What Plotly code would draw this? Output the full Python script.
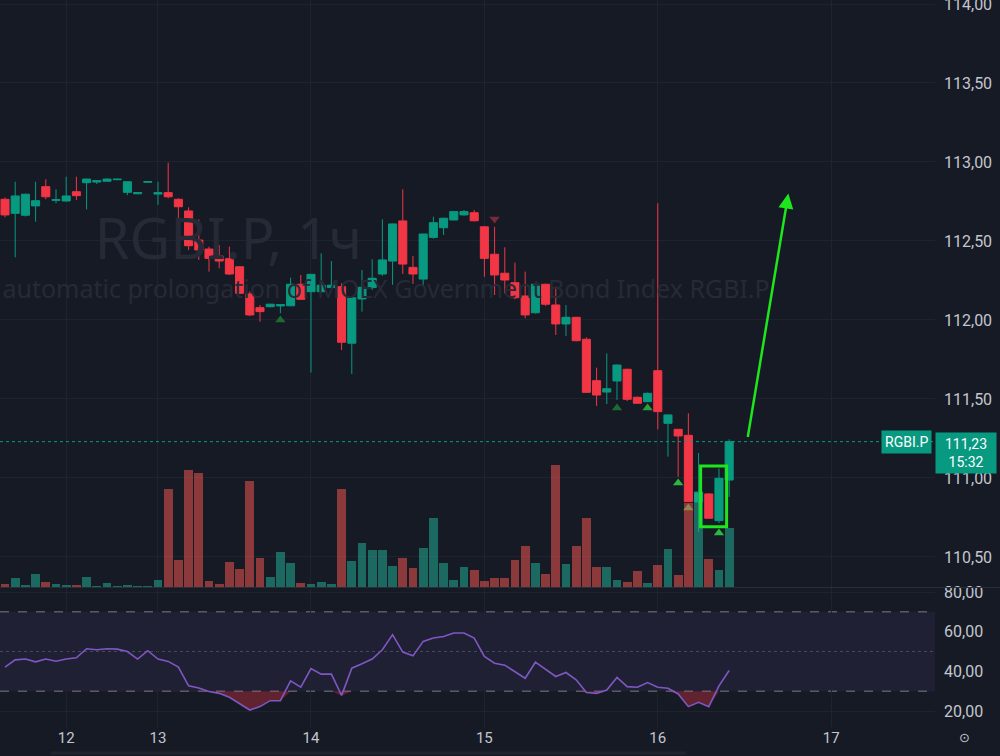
import plotly.graph_objects as go

# ---------------- data ----------------
symbol = "RGBI.P"
interval_label = "RGBI.P, 1ч"
subtitle = "automatic prolongation of MOEX Government Bond Index RGBI.P"
last_price = 111.23
last_time = "15:32"

day_tick_idx = [6, 15, 30, 47, 64, 81]
day_labels = ["12", "13", "14", "15", "16", "17"]

price_ticks = [110.5, 111.0, 111.5, 112.0, 112.5, 113.0, 113.5, 114.0]
rsi_ticks = [20, 40, 60, 80]

opens = [112.764, 112.675, 112.663, 112.722, 112.844, 112.757, 112.753, 112.812, 112.869, 112.873,
         112.878, 112.888, 112.808, 112.799, 112.872, 112.797, 112.806, 112.764, 112.690, 112.506,
         112.449, 112.405, 112.388, 112.337, 112.165, 112.078, 112.084, 112.089, 112.090, 112.226,
         112.179, 112.179, 112.205, 112.211, 111.853, 112.133, 112.205, 112.291, 112.373, 112.627,
         112.333, 112.259, 112.523, 112.584, 112.633, 112.665, 112.679, 112.590, 112.416, 112.296,
         112.236, 112.152, 112.046, 112.226, 112.095, 111.975, 112.017, 111.878, 111.616, 111.544,
         111.614, 111.688, 111.511, 111.483, 111.679, 111.346, 111.308, 111.270, 110.848, 110.899,
         110.730, 110.987]
highs = [112.775, 112.875, 112.800, 112.875, 112.890, 112.827, 112.907, 112.907, 112.895, 112.886,
         112.895, 112.895, 112.876, 112.808, 112.877, 112.875, 112.996, 112.770, 112.713, 112.637,
         112.464, 112.475, 112.464, 112.340, 112.180, 112.095, 112.102, 112.099, 112.268, 112.285,
         112.289, 112.422, 112.373, 112.232, 112.145, 112.316, 112.384, 112.637, 112.610, 112.827,
         112.405, 112.546, 112.654, 112.648, 112.690, 112.696, 112.696, 112.592, 112.590, 112.460,
         112.363, 112.306, 112.230, 112.230, 112.211, 112.095, 112.020, 111.890, 111.698, 111.789,
         111.718, 111.692, 111.515, 111.540, 112.739, 111.402, 111.310, 111.410, 111.158, 110.905,
         111.060, 111.245]
lows = [112.650, 112.397, 112.655, 112.622, 112.764, 112.739, 112.749, 112.759, 112.700, 112.860,
        112.876, 112.885, 112.790, 112.797, 112.870, 112.728, 112.770, 112.608, 112.443, 112.380,
        112.306, 112.327, 112.285, 112.165, 112.025, 111.989, 112.080, 112.043, 112.088, 112.127,
        111.667, 112.175, 112.200, 111.810, 111.658, 112.053, 112.190, 112.280, 112.222, 112.291,
        112.228, 112.222, 112.515, 112.538, 112.630, 112.660, 112.625, 112.274, 112.158, 112.169,
        112.131, 112.011, 112.040, 112.090, 111.905, 111.899, 111.865, 111.538, 111.456, 111.468,
        111.494, 111.487, 111.470, 111.480, 111.308, 111.135, 111.008, 110.850, 110.658, 110.745,
        110.715, 110.880]
closes = [112.665, 112.785, 112.796, 112.755, 112.780, 112.762, 112.785, 112.787, 112.892, 112.882,
          112.892, 112.891, 112.875, 112.806, 112.876, 112.806, 112.780, 112.717, 112.470, 112.443,
          112.390, 112.373, 112.291, 112.169, 112.032, 112.053, 112.100, 112.097, 112.226, 112.131,
          112.289, 112.220, 112.220, 111.859, 112.141, 112.207, 112.264, 112.380, 112.608, 112.354,
          112.291, 112.544, 112.616, 112.644, 112.686, 112.686, 112.628, 112.390, 112.285, 112.253,
          112.141, 112.032, 112.226, 112.100, 111.975, 112.017, 111.869, 111.542, 111.525, 111.565,
          111.715, 111.498, 111.473, 111.536, 111.420, 111.399, 111.266, 110.850, 110.911, 110.745,
          110.998, 111.230]
volumes = [33, 93, 20, 127, 50, 27, 17, 17, 97, 10,
           37, 10, 17, 7, 7, 70, 977, 273, 1167, 1140,
           60, 33, 250, 183, 1060, 293, 100, 347, 237, 40,
           27, 50, 27, 983, 260, 443, 367, 367, 207, 287,
           193, 387, 693, 240, 70, 203, 173, 60, 93, 87,
           267, 413, 240, 133, 1220, 227, 413, 690, 200, 200,
           70, 53, 160, 40, 217, 377, 117, 843, 943, 277,
           167, 587]
rsi = [42.1, 45.8, 46.2, 44.8, 46.2, 45.1, 46.2, 46.8, 51.4, 50.9,
       51.4, 51.2, 50.0, 46.2, 50.4, 46.2, 45.0, 42.1, 32.7, 31.6,
       29.8, 28.9, 26.9, 23.5, 20.5, 22.2, 25.2, 25.2, 35.2, 32.0,
       41.4, 38.6, 38.6, 27.8, 41.6, 43.8, 46.2, 50.9, 58.5, 49.7,
       47.8, 55.1, 56.8, 57.6, 59.3, 59.3, 56.8, 47.5, 44.1, 43.1,
       39.9, 36.5, 44.6, 41.1, 37.4, 39.4, 35.7, 29.3, 28.9, 30.6,
       36.9, 32.3, 32.0, 34.3, 32.0, 31.5, 28.6, 22.2, 24.4, 22.2,
       32.7, 40.4]
rsi_upper, rsi_mid, rsi_lower = 70, 50, 30

signal_up_idx = [27, 60, 63, 66, 67, 70]
signal_up_price = [112.000, 111.443, 111.443, 110.968, 110.810, 110.652]
signal_up_color = ["#1c6b33", "#1c6b33", "#25a23c", "#2bb842", "#2bb842", "#2bb842"]
signal_dn_idx = [48]
signal_dn_price = [112.639]

# user drawings (data coordinates)
box_x = [68.2, 70.75]
box_y = [110.692, 111.076]
arrow_from = [72.8, 111.25]
arrow_to = [76.8, 112.80]

# ---------------- styling ----------------
BG = "#161a25"
GRID = "#1f2330"
TXT = "#c3c6ce"
UP = "#089981"
DN = "#f23645"
FONT = "Roboto"

idx = list(range(len(opens)))
vol_colors = ["rgba(34,171,148,0.55)" if c >= o else "rgba(239,83,80,0.55)"
              for o, c in zip(opens, closes)]

fig = go.Figure()

# watermark (drawn first, behind candles)
fig.add_trace(go.Scatter(x=[8.8], y=[112.475], mode="text", text=[interval_label],
                         textposition="middle right",
                         textfont=dict(family="Noto Sans", size=56, color="#262a36"),
                         hoverinfo="skip", showlegend=False, xaxis="x", yaxis="y"))
fig.add_trace(go.Scatter(x=[-0.25], y=[112.180], mode="text", text=[subtitle],
                         textposition="middle right",
                         textfont=dict(family="Noto Sans", size=25, color="#262a36"),
                         hoverinfo="skip", showlegend=False, xaxis="x", yaxis="y"))

fig.add_trace(go.Candlestick(x=idx, open=opens, high=highs, low=lows, close=closes,
                             increasing=dict(line=dict(color=UP, width=1), fillcolor=UP),
                             decreasing=dict(line=dict(color=DN, width=1), fillcolor=DN),
                             whiskerwidth=0, showlegend=False, hoverinfo="skip",
                             xaxis="x", yaxis="y"))

fig.add_trace(go.Scatter(x=signal_up_idx, y=signal_up_price, mode="markers",
                         marker=dict(symbol="triangle-up", size=9, color=signal_up_color),
                         hoverinfo="skip", showlegend=False, xaxis="x", yaxis="y"))
fig.add_trace(go.Scatter(x=signal_dn_idx, y=signal_dn_price, mode="markers",
                         marker=dict(symbol="triangle-down", size=9, color="#7a2a35"),
                         hoverinfo="skip", showlegend=False, xaxis="x", yaxis="y"))

# volume overlay
fig.add_trace(go.Bar(x=idx, y=volumes, marker=dict(color=vol_colors, line=dict(width=0)),
                     width=0.86, hoverinfo="skip", showlegend=False, xaxis="x", yaxis="y3"))

# RSI pane
rsi_clip = [min(v, rsi_lower) for v in rsi]
fig.add_trace(go.Scatter(x=idx, y=[rsi_lower] * len(idx), mode="lines", line=dict(width=0),
                         hoverinfo="skip", showlegend=False, xaxis="x2", yaxis="y2"))
fig.add_trace(go.Scatter(x=idx, y=rsi_clip, mode="lines", line=dict(width=0),
                         fill="tonexty", fillcolor="rgba(242,54,69,0.35)",
                         hoverinfo="skip", showlegend=False, xaxis="x2", yaxis="y2"))
fig.add_trace(go.Scatter(x=idx, y=rsi, mode="lines", line=dict(color="#7e57c2", width=1.6),
                         hoverinfo="skip", showlegend=False, xaxis="x2", yaxis="y2"))

# ---------------- layout ----------------
H, W = 756, 1000
mb, mr = 29, 65
ph = H - mb
price_dom = [1 - 587 / ph, 1]
rsi_dom = [0, 1 - 588 / ph]
xr = [-0.49, 91.18]

fig.update_layout(
    width=W, height=H,
    margin=dict(l=0, r=mr, t=0, b=mb, autoexpand=False),
    paper_bgcolor=BG, plot_bgcolor=BG,
    separators=", ",
    font=dict(family=FONT, color=TXT, size=16),
    bargap=0,
    boxgap=0.1, boxgroupgap=0.12,
    hovermode=False,
    xaxis=dict(domain=[0, 1], range=xr, anchor="y", showticklabels=False,
               tickvals=day_tick_idx, showgrid=True, gridcolor=GRID, zeroline=False,
               rangeslider=dict(visible=False), fixedrange=True),
    xaxis2=dict(domain=[0, 1], range=xr, anchor="y2", matches="x",
                tickvals=day_tick_idx, ticktext=day_labels, ticks="", ticklabelstandoff=0,
                ticklabeloverflow="allow",
                tickfont=dict(size=15, color=TXT, family=FONT),
                showgrid=True, gridcolor=GRID, zeroline=False, showline=False),
    yaxis=dict(domain=price_dom, range=[110.310, 114.0253], side="right",
               tickvals=price_ticks, tickformat=".2f", ticks="", ticklabelstandoff=8,
               ticklabeloverflow="allow",
               tickfont=dict(size=16, color=TXT, family=FONT),
               showgrid=True, gridcolor=GRID, zeroline=False, anchor="x"),
    yaxis3=dict(overlaying="y", range=[0, max(volumes) * 587 / 122], visible=False,
                showgrid=False),
    yaxis2=dict(domain=rsi_dom, range=[11.93, 82.02], side="right", anchor="x2",
                tickvals=rsi_ticks, tickformat=".2f", ticks="", ticklabelstandoff=8,
                ticklabeloverflow="allow",
                tickfont=dict(size=16, color=TXT, family=FONT),
                showgrid=True, gridcolor=GRID, zeroline=False),
)

shapes = []
# RSI band and levels
shapes.append(dict(type="rect", xref="x2 domain", yref="y2", x0=0, x1=1, y0=rsi_lower, y1=rsi_upper,
                   fillcolor="rgba(126,87,194,0.10)", line=dict(width=0), layer="below"))
for lv, dash, col in [(rsi_upper, "dash", "#787b86"), (rsi_lower, "dash", "#787b86"),
                      (rsi_mid, "dot", "rgba(120,123,134,0.45)")]:
    shapes.append(dict(type="line", xref="x2 domain", yref="y2", x0=0, x1=1, y0=lv, y1=lv,
                       line=dict(color=col, width=1, dash=dash), layer="below"))
# current price dotted line
shapes.append(dict(type="line", xref="x domain", yref="y", x0=0, x1=1, y0=last_price, y1=last_price,
                   line=dict(color=UP, width=1, dash="dot"), layer="above"))
# pane separator
shapes.append(dict(type="line", xref="paper", yref="paper", x0=0, x1=W / (W - mr), y0=1 - 587.5 / ph,
                   y1=1 - 587.5 / ph, line=dict(color="#2a2e39", width=1)))
# bottom scrollbar hint
shapes.append(dict(type="line", xref="paper", yref="paper", x0=51 / (W - mr), x1=686 / (W - mr),
                   y0=-(753 - ph) / ph, y1=-(753 - ph) / ph, line=dict(color="#20242f", width=3)))
# user-drawn highlight box
shapes.append(dict(type="rect", xref="x", yref="y", x0=box_x[0], x1=box_x[1], y0=box_y[0], y1=box_y[1],
                   line=dict(color="#1de61d", width=3), fillcolor="rgba(0,0,0,0)", layer="above"))
fig.update_layout(shapes=shapes)

annotations = [
    dict(x=arrow_to[0], y=arrow_to[1], ax=arrow_from[0], ay=arrow_from[1], xref="x", yref="y",
         axref="x", ayref="y", text="", showarrow=True, arrowhead=2, arrowsize=1.2,
         arrowwidth=2.5, arrowcolor="#1de61d", standoff=0),
    dict(x=932 / (W - mr), y=last_price, xref="paper", yref="y", xanchor="right", yanchor="middle",
         text=symbol, showarrow=False, bgcolor=UP, borderpad=3,
         font=dict(family=FONT, size=14, color="#ffffff")),
    dict(x=1.0, y=last_price, xref="paper", yref="y", xanchor="left", yanchor="top", yshift=10,
         text=f"{last_price:.2f}".replace(".", ",") + "<br>" + last_time, showarrow=False,
         bgcolor=UP, borderpad=3, width=54, align="center",
         font=dict(family=FONT, size=14, color="#ffffff")),
    dict(x=965 / (W - mr), y=-(737 - ph) / ph, xref="paper", yref="paper", text="⊙",
         xanchor="center", yanchor="middle",
         showarrow=False, font=dict(family="DejaVu Sans", size=13, color=TXT)),
]
fig.update_layout(annotations=annotations)

fig.write_html("out.html")
